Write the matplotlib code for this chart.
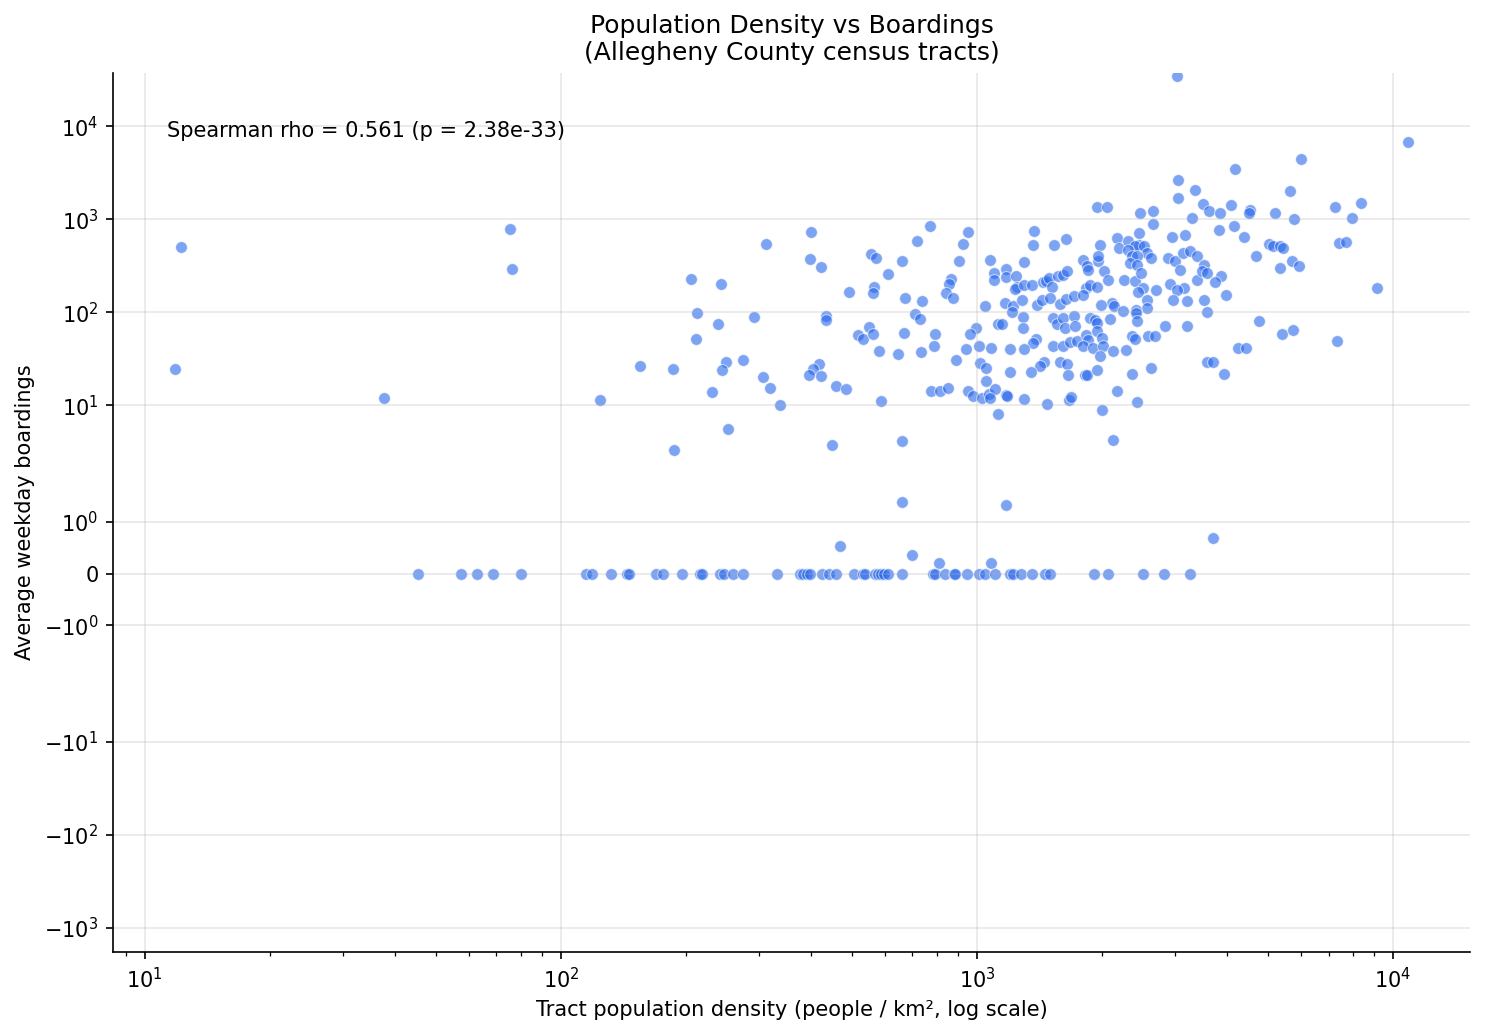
import numpy as np
import matplotlib
matplotlib.use("Agg")
import matplotlib.pyplot as plt

# tracts with boardings > 0 : density (people / km2), avg weekday boardings
density = [12.2, 11.8, 37.6, 75.5, 76.4,
           312, 205, 243, 213, 292, 239, 211, 155, 186, 249, 244, 274, 306, 318, 231, 124, 336, 252, 187,
           400, 773, 953, 925, 718, 397, 423, 556, 573, 661, 906, 1074, 1101, 1101, 612, 867, 857, 842, 877,
           492, 566, 563, 671, 738, 1047, 434, 434, 710, 731, 1125, 996, 961, 551, 518, 531, 564, 668, 794,
           788, 1011, 1081, 942, 582, 647, 735, 891, 1016, 1049, 418, 404, 394, 423, 459, 485, 774, 816, 853,
           953, 977, 1026, 1049, 1071, 1105, 1074, 589, 449, 661, 1125,
           1944, 2057, 2469, 2649, 2649, 3293, 1373, 1366, 1535, 1640, 1980, 2171, 2199, 2307, 2447, 2447,
           2398, 2520, 2557, 2625, 2312, 2354, 2420, 2332, 2420, 2943, 3168, 2884, 2992, 3133, 3251, 3373,
           1299, 1176, 1174, 1241, 1246, 1234, 1297, 1358, 1443, 1465, 1492, 1512, 1569, 1613, 1643, 1801,
           1841, 1852, 1950, 1957, 2023, 2061, 1828, 1869, 1946, 2115, 2261, 2398, 2475, 2511, 2438, 2694,
           2911, 3076, 3145, 3020, 3373, 2965, 3192, 2557, 2557, 2411, 1168, 1218, 1285, 1391, 1435, 1498,
           1583, 1637, 1714, 1795, 1990, 2138, 2248, 1211, 1292, 1147, 1292, 1520, 1554, 1613, 1628, 1711,
           1717, 1869, 1922, 1940, 2088, 2411, 2420, 2831, 3203, 1386, 1361, 1200, 1297, 1526, 1613, 1673,
           1736, 1828, 1852, 1801, 1904, 1946, 1994, 2005, 1976, 2119, 2281, 2354, 2398, 2572, 2679, 1449,
           1418, 1583, 1649, 1351, 1202, 1658, 1818, 1835, 1946, 2363, 2625, 1174, 1178, 1297, 1476, 1667,
           1683, 2175, 2429, 2001, 2127,
           10886, 6023, 4178, 5654, 3501, 3619, 3846, 4087, 4532, 4515, 5214, 5793, 7255, 8378, 7985,
           3824, 4148, 4391, 5035, 5157, 5350, 5430, 7430, 7697, 4694, 5360, 5730, 5956, 3514, 3469, 3567,
           3868, 3734, 3968, 3519, 3578, 9171, 4772, 5420, 5760, 7349, 4248, 4424, 3578, 3700, 3924,
           3031, 3048, 3349, 3042,
           661, 1175, 469, 698, 811, 1081, 3690]
boardings = [505, 24.6, 12.0, 787, 293,
             543, 228, 202, 98, 89, 75, 51.7, 26.7, 24.6, 29.3, 24, 30.7, 20.2, 15.4, 14.0, 11.4, 10.1, 5.5, 3.34,
             731, 855, 731, 543, 585, 375, 307, 428, 380, 357, 357, 366, 267, 223, 259, 230, 200, 163, 143,
             166, 185, 160, 143, 132, 117, 91, 82, 95, 85, 75, 68, 59, 70, 57, 52, 58, 60, 58,
             43.8, 43.8, 41.7, 40.4, 38.4, 36, 37.5, 30.7, 28.8, 25.2, 27.6, 24.6, 21.2, 20.7, 16.3, 15.0, 14.3, 14.3, 15.4,
             14.3, 12.6, 12.1, 18.3, 13.3, 15.1, 12.1, 11.2, 3.75, 4.17, 8.07,
             1357, 1357, 1170, 1229, 891, 1042, 749, 534, 534, 615, 534, 630, 492, 585, 713, 534,
             513, 513, 435, 384, 472, 400, 400, 339, 326, 651, 673, 384, 354, 435, 453, 400,
             345, 292, 238, 248, 187, 178, 198, 197, 210, 219, 234, 187, 248, 254, 281, 368,
             312, 288, 354, 400, 276, 225, 183, 198, 187, 126, 225, 215, 265, 183, 164, 175,
             203, 288, 183, 175, 225, 137, 132, 137, 111, 107, 126, 118, 136, 121, 135, 141,
             124, 139, 149, 155, 120, 118, 103, 100, 90, 75.5, 68.4, 87, 75.5, 87, 68.4, 90.6,
             71.3, 87, 83.4, 76.8, 85.5, 98, 80, 71.9, 71.9, 51.7, 46.8, 40.7, 40.7, 43.8, 43.1, 47.6,
             48.8, 57.5, 50.8, 43.8, 41.4, 63, 53, 43.1, 34.2, 38.7, 39.4, 55.2, 51.7, 56.1, 56.1, 29.2,
             26.7, 29.2, 28.1, 22.6, 23.0, 21.4, 21.4, 21.4, 24.2, 21.9, 25.4, 13.0, 12.5, 11.8, 10.4, 11.5,
             12.3, 14.3, 10.9, 8.98, 4.27,
             6800, 4455, 3477, 2034, 1474, 1240, 1180, 1438, 1271, 1180, 1180, 1009, 1357, 1511, 1034,
             768, 848, 646, 543, 513, 513, 492, 557, 575, 403, 302, 359, 315, 323, 281, 265,
             248, 210, 155, 136, 101, 184, 80.7, 59, 64.6, 49.6, 41.4, 41.4, 29.2, 29.2, 21.7,
             35070, 2671, 2085, 1710,
             1.38, 1.33, 0.54, 0.35, 0.21, 0.21, 0.69]

# tracts with no boardings
zero_density = [45.3, 57.5, 62.9, 68.7, 80.2, 115, 119, 132, 144, 146, 169, 176, 195, 216, 218, 241,
                247, 259, 274, 331, 376, 382, 390, 397, 424, 441, 458, 506, 532, 538, 569, 578, 588,
                598, 611, 661, 784, 793, 838, 880, 885, 946, 1011, 1045, 1104, 1200, 1221, 1276,
                1356, 1457, 1497, 1910, 2063, 2506, 2815, 3252]

rho_text = "Spearman rho = 0.561 (p = 2.38e-33)"

x = np.concatenate([density, zero_density])
y = np.concatenate([boardings, np.zeros(len(zero_density))])

fig, ax = plt.subplots(figsize=(9.9, 6.9), dpi=150)
fig.subplots_adjust(left=0.0761, right=0.9899, top=0.9295, bottom=0.0802)

ax.scatter(x, y, s=32, color="#2666eb", alpha=0.6, edgecolor="white", linewidth=0.5)

ax.set_xscale("log")
ax.set_yscale("symlog", linthresh=2)
ax.set_ylim(-1820, 37500)

ax.set_title("Population Density vs Boardings\n(Allegheny County census tracts)", fontsize=12)
ax.set_xlabel("Tract population density (people / km², log scale)")
ax.set_ylabel("Average weekday boardings")
ax.text(0.04, 0.945, rho_text, transform=ax.transAxes, va="top", fontsize=10)

ax.grid(True, alpha=0.3)
ax.spines["top"].set_visible(False)
ax.spines["right"].set_visible(False)

fig.savefig("out.png", dpi=150)
